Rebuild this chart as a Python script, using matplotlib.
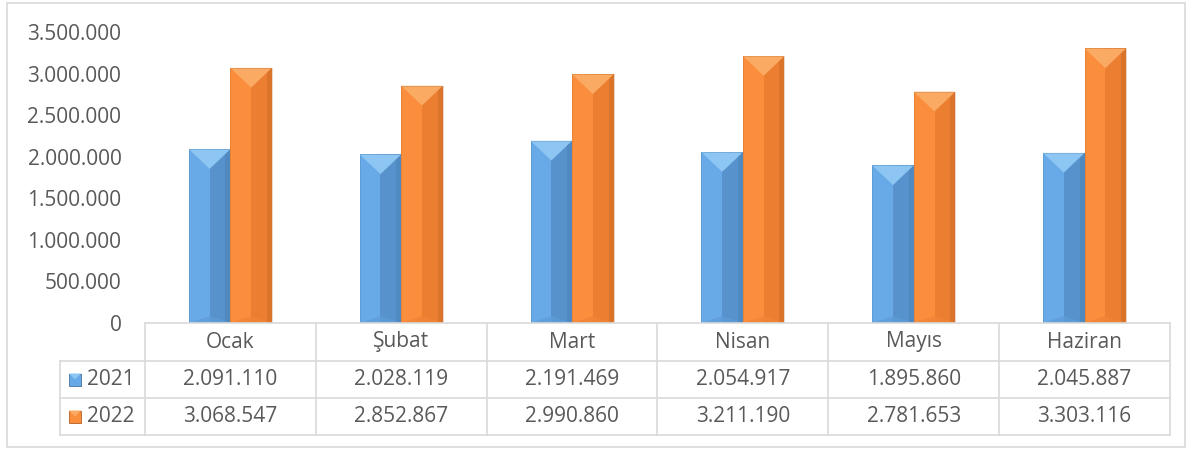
import numpy as np
import matplotlib.pyplot as plt
from matplotlib.patches import Polygon, Rectangle
from matplotlib.lines import Line2D
from matplotlib.transforms import blended_transform_factory

plt.rcParams['font.family'] = ['Open Sans', 'DejaVu Sans']

# veri
aylar = ['Ocak', 'Şubat', 'Mart', 'Nisan', 'Mayıs', 'Haziran']
seriler = ['2021', '2022']
v2021 = [2091110, 2028119, 2191469, 2054917, 1895860, 2045887]
v2022 = [3068547, 2852867, 2990860, 3211190, 2781653, 3303116]
yticks = [0, 500000, 1000000, 1500000, 2000000, 2500000, 3000000, 3500000]

renkler = {
    '2021': dict(left='#68AAE8', right='#5792CD', strip='#4A7FB5', top='#8DC6F2', bot='#5E9DD8', edge='#41719C'),
    '2022': dict(left='#FA8E3D', right='#EB7E31', strip='#CC6B27', top='#FAAA62', bot='#F08437', edge='#B45F22'),
}
metin = '#595959'
cizgi = '#D9D9D9'


def fmt(v):
    return f'{v:,}'.replace(',', '.')


W, H = 1192, 450
fig = plt.figure(figsize=(W / 100, H / 100), dpi=100)


def fx(p):
    return p / W


def fy(p):
    return 1 - p / H


# dış çerçeve
fig.patches.append(Rectangle((fx(7), fy(447)), 1178 / W, 444 / H, transform=fig.transFigure,
                             fill=False, edgecolor=cizgi, linewidth=1.2))

ax_l, ax_r, ax_t, ax_b = 145, 1170, 32, 323
ax = fig.add_axes([fx(ax_l), fy(ax_b), (ax_r - ax_l) / W, (ax_b - ax_t) / H])
ax.set_xlim(-0.5, len(aylar) - 0.5)
ax.set_ylim(0, 3500000)
for s in ax.spines.values():
    s.set_visible(False)
ax.set_xticks([])
ax.set_yticks(yticks)
ax.set_yticklabels([fmt(v) for v in yticks], fontsize=15, color=metin)
ax.tick_params(axis='y', length=0, pad=17)

x = np.arange(len(aylar))
bw = 0.243
px_x = (ax_r - ax_l) / len(aylar)          # piksel / birim x
px_y = (ax_b - ax_t) / 3500000             # piksel / birim y


def bevel_bar(xc, h, c):
    x0, x1 = xc - bw / 2, xc + bw / 2
    xm = xc
    d = (bw / 2) * px_x / px_y * 0.95       # üst üçgen derinliği (veri birimi)
    db = d * 0.35
    ax.add_patch(Polygon([(x0, 0), (xm, 0), (xm, h), (x0, h)], closed=True, fc=c['left'], ec='none'))
    ax.add_patch(Polygon([(xm, 0), (x1, 0), (x1, h), (xm, h)], closed=True, fc=c['right'], ec='none'))
    ax.add_patch(Rectangle((x1 - bw * 0.12, 0), bw * 0.12, h, fc=c['strip'], ec='none', alpha=0.5))
    ax.add_patch(Polygon([(x0, 0), (x1, 0), (xm, db)], closed=True, fc=c['bot'], ec='none', alpha=0.8))
    ax.add_patch(Polygon([(x0, h), (x1, h), (xm, h - d)], closed=True, fc=c['top'], ec='none'))
    ax.add_patch(Rectangle((x0, 0), bw, h, fill=False, ec=c['edge'], lw=0.5, alpha=0.35))


for i in range(len(aylar)):
    bevel_bar(x[i] - bw / 2, v2021[i], renkler['2021'])
    bevel_bar(x[i] + bw / 2, v2022[i], renkler['2022'])

# veri tablosu (elle çizilir)
tr = blended_transform_factory(ax.transData, fig.transFigure)
tab_sol = 60
satir = [323, 361, 398, 435]
lw = 1.2
# yatay çizgiler
fig.add_artist(Line2D([fx(ax_l), fx(ax_r)], [fy(satir[0])] * 2, transform=fig.transFigure, color=cizgi, lw=lw))
for yy in satir[1:]:
    fig.add_artist(Line2D([fx(tab_sol), fx(ax_r)], [fy(yy)] * 2, transform=fig.transFigure, color=cizgi, lw=lw))
# dikey çizgiler
for k in range(len(aylar) + 1):
    fig.add_artist(Line2D([k - 0.5, k - 0.5], [fy(satir[0]), fy(satir[-1])], transform=tr, color=cizgi, lw=lw))
fig.add_artist(Line2D([fx(tab_sol)] * 2, [fy(satir[1]), fy(satir[-1])], transform=fig.transFigure, color=cizgi, lw=lw))

# başlıklar ve değerler
for i, ay in enumerate(aylar):
    fig.text(i, fy((satir[0] + satir[1]) / 2), ay, transform=tr, ha='center', va='center',
             fontsize=15, color=metin)
for j, (s, vals) in enumerate(zip(seriler, [v2021, v2022])):
    yc = fy((satir[j + 1] + satir[j + 2]) / 2)
    for i, v in enumerate(vals):
        fig.text(i, yc, fmt(v), transform=tr, ha='center', va='center', fontsize=15, color=metin)
    fig.text(fx(87), yc, s, ha='left', va='center', fontsize=15, color=metin)
    # lejant kutucuğu
    c = renkler[s]
    yp = (satir[j + 1] + satir[j + 2]) / 2
    fig.patches.append(Rectangle((fx(69), fy(yp + 6)), 12 / W, 12 / H, transform=fig.transFigure,
                                 fc=c['left'], ec=c['edge'], lw=0.6))
    fig.patches.append(Polygon([(fx(69), fy(yp - 6)), (fx(81), fy(yp - 6)), (fx(75), fy(yp))],
                               closed=True, transform=fig.transFigure, fc=c['top'], ec='none'))

fig.savefig('out.png', dpi=100)
